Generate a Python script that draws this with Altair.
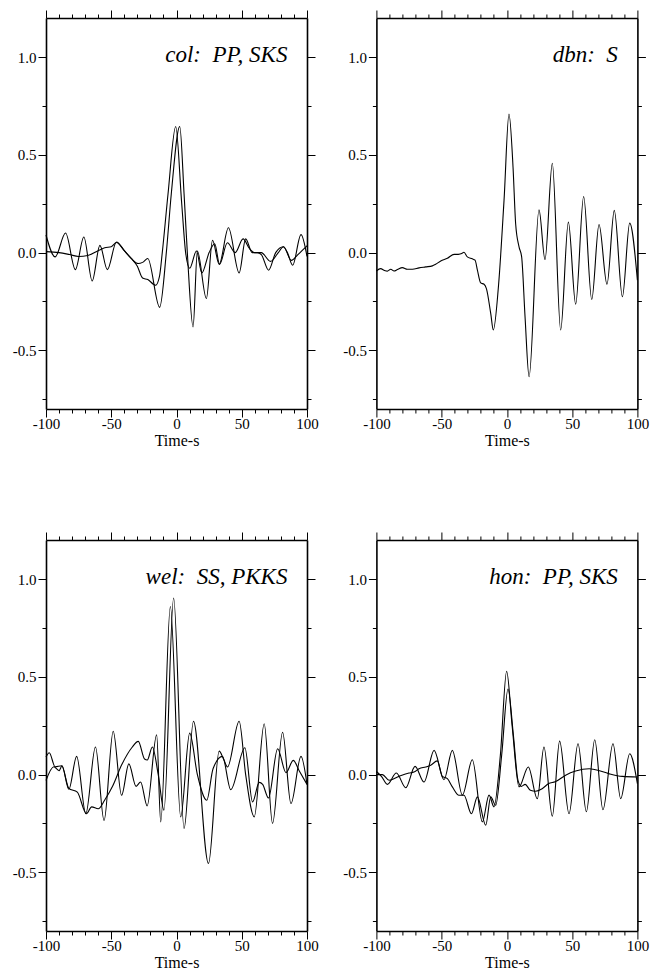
import altair as alt
import pandas as pd

# ---------------- axis ticks / domains ----------------
X_TICKS = list(range(-100, 101, 10))
Y_TICKS = [-0.75, -0.5, -0.25, 0.0, 0.25, 0.5, 0.75, 1.0]
X_DOMAIN = [-100, 100]
Y_DOMAIN = [-0.8, 1.2]

# ---------------- panel labels ----------------
TITLES = ["col:\u00a0 PP, SKS", "dbn:\u00a0 S", "wel:\u00a0 SS, PKKS", "hon:\u00a0 PP, SKS"]

# ---------------- col ----------------
col_a_t = [-100, -93, -85, -77.5, -71, -64.6, -58.7, -53, -46, -40, -34.7, -29.3, -26, -22, -12.9,
           -7.8, -4, 2.5, 5.8, 8.3, 12.7, 16, 22.9, 27.6, 32.7, 39.8, 48, 53, 58, 62, 65, 70.6, 76,
           81.8, 85, 89, 95.4, 100]
col_a_v = [0.09, -0.022, 0.10, -0.087, 0.08, -0.145, 0.037, -0.087, 0.054, 0.01, -0.03, -0.056, -0.05,
           -0.03, -0.28, 0.0, 0.3, 0.645, 0.3, 0.0, -0.38, 0.008, -0.235, 0.063, -0.06, 0.127, -0.104,
           0.07, 0.0, 0.0, -0.01, -0.09, 0.0, 0.03, 0.0, -0.065, 0.092, -0.02]
col_b_t = [-100, -90, -82, -75, -68, -60, -55, -50, -46, -40, -34.7, -30, -26, -22, -16, -13, -10.9,
           -6.5, -0.6, 4, 7, 10.1, 15.3, 19.4, 25, 29.3, 33, 39, 45, 51, 56, 60, 65, 72, 78, 82, 88,
           93, 100]
col_b_v = [0.005, 0.0, -0.01, -0.02, -0.015, 0.01, 0.025, 0.03, 0.052, 0.01, -0.03, -0.07, -0.13,
           -0.138, -0.167, -0.12, 0.0, 0.3, 0.645, 0.25, 0.0, -0.08, 0.008, -0.104, 0.0, 0.045, -0.06,
           0.05, 0.0, 0.07, 0.02, 0.0, 0.0, -0.045, 0.0, 0.03, -0.04, -0.01, 0.035]

# ---------------- dbn ----------------
dbn_t = [-100, -96.7, -94.2, -91.6, -89, -86.5, -83.9, -80.1, -76.3, -72.4, -67.3, -62.2, -57.1,
         -54.6, -50.7, -45.6, -40.5, -37.2, -34.6, -32.9, -30.3, -26.5, -24.4, -22.6, -20.1, -17.5,
         -15.7, -12.4, -10.4, -6.5, -2.2, 1.6, 4.7, 6.7, 9.3, 11.3, 13.9, 17.0, 24.6, 29.2, 34.8,
         41.2, 47.1, 52.7, 58.8, 65.0, 70.6, 76.7, 82.3, 88.5, 94.1, 100]
dbn_v = [-0.094, -0.082, -0.090, -0.095, -0.085, -0.094, -0.087, -0.077, -0.085, -0.085, -0.078,
         -0.073, -0.068, -0.06, -0.043, -0.029, -0.009, -0.009, -0.005, 0.002, -0.022, -0.032,
         -0.039, -0.09, -0.155, -0.162, -0.184, -0.311, -0.396, -0.175, 0.267, 0.709, 0.437, 0.148,
         0.029, -0.022, -0.328, -0.635, 0.219, -0.036, 0.457, -0.396, 0.156, -0.264, 0.287, -0.24,
         0.144, -0.162, 0.216, -0.226, 0.151, -0.141]

# ---------------- wel ----------------
wel_a_t = [-100, -94, -90, -87.7, -82.5, -76.5, -69.5, -62.1, -55.5, -48.5, -42.1, -36.5, -31,
           -27.5, -22.5, -15.2, -12.1, -4.7, 3.2, 10.1, 16, 23.2, 28, 35.2, 41.6, 52.4, 58.3, 63.4,
           66, 70.5, 77.5, 83.9, 89.5, 94, 100]
wel_a_v = [-0.03, 0.04, 0.02, 0.045, -0.075, 0.093, -0.2, 0.141, -0.235, 0.222, -0.106, 0.055,
           -0.06, -0.038, -0.16, 0.204, -0.242, 0.86, -0.216, 0.212, 0.0, -0.131, 0.03, 0.093,
           -0.077, 0.137, -0.14, -0.04, -0.05, -0.12, 0.132, 0.01, 0.073, 0.02, -0.05]
wel_b_t = [-100, -97.5, -93, -88, -82.5, -76, -69, -65, -60, -55, -49, -42, -34, -29.3, -24.5,
           -22.4, -18.5, -14, -9.6, -2.2, 5.8, 13.0, 24.5, 32.7, 36, 39.1, 48, 53, 59.6, 67.2, 73.6,
           81.3, 87.7, 95.4, 100]
wel_b_v = [0.09, 0.112, 0.04, 0.045, -0.07, -0.09, -0.2, -0.165, -0.175, -0.13, -0.06, 0.05, 0.14,
           0.17, 0.08, 0.075, 0.141, 0.0, -0.182, 0.903, -0.276, 0.273, -0.455, 0.12, 0.08, 0.039,
           0.273, 0.0, -0.216, 0.26, -0.25, 0.217, -0.148, 0.093, -0.05]

# ---------------- hon ----------------
hon_a_t = [-100, -96, -91.6, -84.7, -77.5, -70.4, -63.5, -55.8, -48.2, -41.8, -34.1, -26.5, -18.8,
           -13.7, -9.9, -5, -0.2, 4, 9.3, 16.4, 23.3, 28.4, 34.8, 40.4, 47.6, 54.5, 60.9, 67.3,
           73.6, 81.3, 87.2, 94.1, 100]
hon_a_v = [0.016, -0.01, -0.05, 0.008, -0.067, 0.042, -0.038, 0.124, -0.026, 0.124, -0.105, 0.076,
           -0.242, -0.105, -0.165, 0.1, 0.529, 0.25, -0.063, 0.039, -0.123, 0.141, -0.213, 0.171,
           -0.2, 0.158, -0.19, 0.178, -0.18, 0.158, -0.123, 0.107, -0.046]
hon_b_t = [-100, -95.4, -90.3, -82.7, -75, -71.2, -67.3, -62.2, -58.4, -53.3, -49.5, -45.6, -41.8,
           -36.7, -32.9, -27.2, -22.6, -16.2, -12.4, -8.6, -4, 0.85, 5, 8.5, 11, 14, 18, 22, 27, 32,
           37, 45, 52.7, 63, 68, 78, 88.5, 100]
hon_b_v = [0.0, 0.0, -0.029, -0.009, 0.008, 0.013, 0.03, 0.039, 0.048, 0.07, -0.009, -0.021,
           -0.063, -0.106, -0.106, -0.2, -0.114, -0.259, -0.114, -0.157, 0.1, 0.438, 0.2, -0.03,
           -0.06, -0.05, -0.08, -0.085, -0.072, -0.046, -0.037, -0.003, 0.018, 0.03, 0.025, 0.005,
           -0.009, -0.012]

FONT = "'Liberation Serif', 'Times New Roman', 'DejaVu Serif', serif"
W, H = 261, 391

X_MAJOR = "datum.value % 50 === 0"
Y_MAJOR = "abs(datum.value * 2 - round(datum.value * 2)) < 0.001"
X_LABEL = ("datum.value % 50 === 0 ? (datum.value < 0 ? '-' + format(-datum.value, 'd') : "
           "format(datum.value, 'd')) : ''")
Y_LABEL = (Y_MAJOR + " ? (datum.value < 0 ? '-' + format(-datum.value, '.1f') : "
           "format(datum.value, '.1f')) : ''")


def tsize(test):
    return {"condition": {"test": test, "value": 8}, "value": 4}


def xscale():
    return alt.Scale(domain=X_DOMAIN, nice=False, zero=False)


def yscale():
    return alt.Scale(domain=Y_DOMAIN, nice=False, zero=False)


common = dict(domainColor="black", domainWidth=1.6, tickColor="black", tickWidth=1,
              labelColor="black", labelFont=FONT, labelFontSize=15, grid=False)


def panel(series, title):
    df = pd.concat([pd.DataFrame({"t": t, "v": v, "s": name}) for name, t, v in series])
    lines = alt.Chart(df).mark_line(interpolate="monotone", color="black", strokeWidth=1.1).encode(
        x=alt.X("t:Q", scale=xscale(),
                axis=alt.Axis(orient="bottom", values=X_TICKS, tickSize=tsize(X_MAJOR),
                              labelExpr=X_LABEL, labelFlush=False, labelOverlap=False,
                              labelPadding=-1, title="Time-s", titleFont=FONT, titleFontSize=16,
                              titleFontWeight="normal", titleColor="black", titlePadding=1,
                              **common)),
        y=alt.Y("v:Q", scale=yscale(),
                axis=alt.Axis(orient="left", values=Y_TICKS, tickSize=tsize(Y_MAJOR),
                              labelExpr=Y_LABEL, labelFlush=False, labelOverlap=False,
                              labelPadding=2, title=None, **common)),
        detail="s:N",
    )
    text = alt.Chart(pd.DataFrame({"label": [title]})).mark_text(
        align="right", baseline="alphabetic", font=FONT, fontStyle="italic", fontSize=23,
        color="black",
    ).encode(
        x=alt.XDatum(85, type="quantitative", scale=xscale(),
                     axis=alt.Axis(orient="top", values=X_TICKS, tickSize=tsize(X_MAJOR),
                                   labels=False, title=None, **common)),
        y=alt.YDatum(0.975, type="quantitative", scale=yscale(),
                     axis=alt.Axis(orient="right", values=Y_TICKS, tickSize=tsize(Y_MAJOR),
                                   labels=False, title=None, **common)),
        text="label:N",
    )
    return alt.layer(lines, text).resolve_axis(x="independent", y="independent").properties(
        width=W, height=H)


p1 = panel([("a", col_a_t, col_a_v), ("b", col_b_t, col_b_v)], TITLES[0])
p2 = panel([("a", dbn_t, dbn_v)], TITLES[1])
p3 = panel([("a", wel_a_t, wel_a_v), ("b", wel_b_t, wel_b_v)], TITLES[2])
p4 = panel([("a", hon_a_t, hon_a_v), ("b", hon_b_t, hon_b_v)], TITLES[3])

chart = alt.concat(p1, p2, p3, p4, columns=2, spacing={"row": 131, "column": 69.4},
                   bounds="flush").properties(
    padding={"left": 12, "top": 9, "right": 5, "bottom": 0},
    background="white",
).configure_view(stroke=None)

chart.save("out.html", embed_options={"renderer": "svg", "actions": False})
